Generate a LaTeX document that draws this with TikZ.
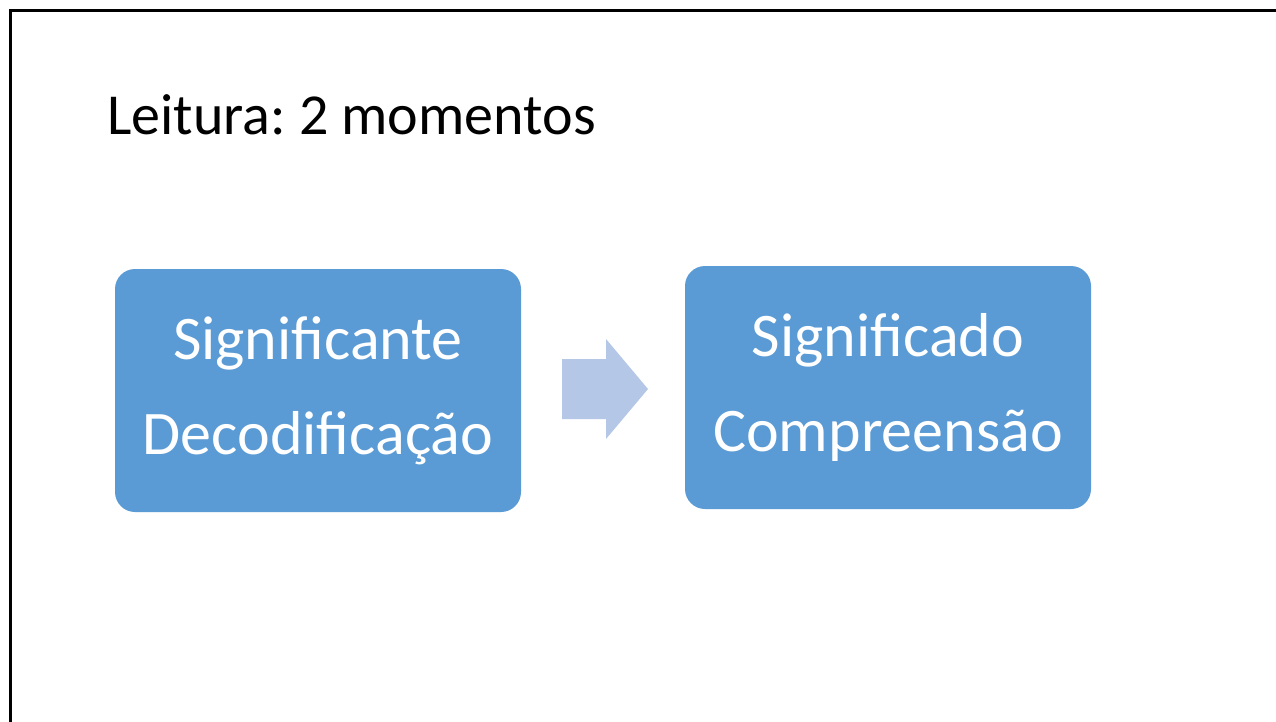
\documentclass[tikz,border=0pt]{standalone}
\usepackage{fontspec}
\setmainfont{Carlito}
\frenchspacing
\definecolor{boxblue}{HTML}{5B9BD5}
\definecolor{arrowblue}{HTML}{B4C7E7}
\begin{document}
\begin{tikzpicture}[x=1pt,y=-1pt,
  boxfill/.style={fill=boxblue,rounded corners=20pt},
  boxtext/.style={text=white,align=center,inner sep=0pt,font=\fontsize{62}{95}\selectfont},
]
\useasboundingbox (0,0) rectangle (1276,722);
\fill[white] (0,0) rectangle (1276,722);
\draw[line width=3pt] (10.5,722) -- (10.5,11) -- (1276,11);
\node[anchor=base west,inner sep=0,font=\fontsize{58}{60}\selectfont] (title) at (107,135) {Leitura: 2 momentos};
\fill[boxfill] (115,269) rectangle (521,512);
\node[boxtext] (a) at (318,390.5) {Significante\\Decodificação};
\fill[boxfill] (685,266) rectangle (1091,509);
\node[boxtext] (b) at (888,387.5) {Significado\\Compreensão};
\fill[arrowblue] (562,359) -- (606,359) -- (606,339) -- (648,389) -- (606,439) -- (606,419) -- (562,419) -- cycle;
\end{tikzpicture}
\end{document}
